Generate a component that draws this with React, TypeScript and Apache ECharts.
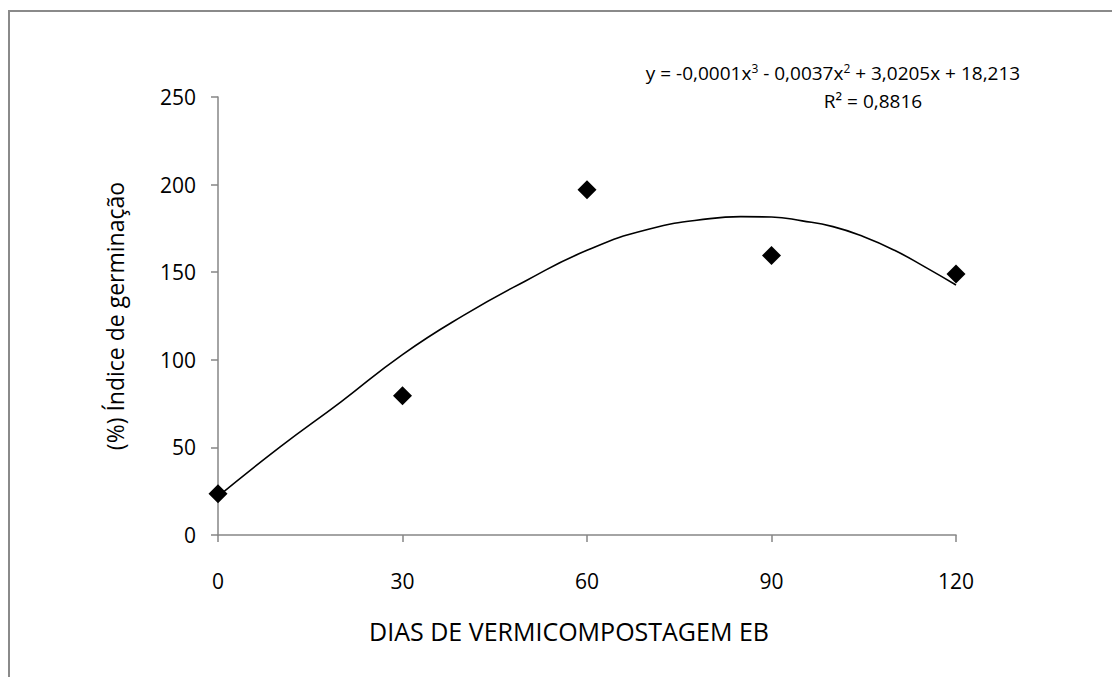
import React, { useEffect, useRef } from "react";
import * as echarts from "echarts";

const days = [0, 30, 60, 90, 120];
const germination = [23.5, 79.5, 197, 159.5, 149];
const trendX = [0, 10, 20, 30, 40, 50, 60, 70, 80, 85, 90, 95, 100, 105, 110, 115, 120];
const trendY = [22, 50, 76, 103, 125.5, 145, 162.5, 174.5, 180.6, 181.7, 181.5, 179.3, 176, 170.2, 162.5, 152.9, 142.7];
const xTicks = { min: 0, max: 120, interval: 30 };
const yTicks = { min: 0, max: 250, interval: 50 };
const xTitle = "DIAS DE VERMICOMPOSTAGEM EB";
const yTitle = "(%) Índice de germinação";
const eqText = "y = -0,0001x{sup|3} - 0,0037x{sup|2} + 3,0205x + 18,213";
const r2Text = "R² = 0,8816";

const FONT = "'Open Sans', 'Liberation Sans', sans-serif";
const AXIS_COLOR = "#868686";

export default function App() {
  const ref = useRef<HTMLDivElement>(null);
  useEffect(() => {
    if (!ref.current) return;
    const chart = echarts.init(ref.current, null, { renderer: "svg" });
    const scatter = days.map((d, i) => [d, germination[i]]);
    const trend = trendX.map((d, i) => [d, trendY[i]]);
    chart.setOption({
      animation: false,
      backgroundColor: "#ffffff",
      grid: { left: 218, right: 156, top: 97, bottom: 142 },
      xAxis: {
        type: "value",
        min: xTicks.min,
        max: xTicks.max,
        interval: xTicks.interval,
        name: xTitle,
        nameLocation: "middle",
        nameGap: 83,
        nameTextStyle: { fontFamily: FONT, fontSize: 25, color: "#000", padding: [0, 36, 0, 0] },
        axisLine: { show: true, lineStyle: { color: AXIS_COLOR, width: 1.5 } },
        axisTick: { show: true, length: 7, lineStyle: { color: AXIS_COLOR, width: 1.5 } },
        axisLabel: { fontFamily: FONT, fontSize: 21, color: "#000", margin: 35 },
        splitLine: { show: false },
      },
      yAxis: {
        type: "value",
        min: yTicks.min,
        max: yTicks.max,
        interval: yTicks.interval,
        name: yTitle,
        nameLocation: "middle",
        nameGap: 92,
        nameRotate: 90,
        nameTextStyle: { fontFamily: FONT, fontSize: 23, color: "#000" },
        axisLine: { show: true, lineStyle: { color: AXIS_COLOR, width: 1.5 } },
        axisTick: { show: true, length: 7, lineStyle: { color: AXIS_COLOR, width: 1.5 } },
        axisLabel: { fontFamily: FONT, fontSize: 21, color: "#000", margin: 22 },
        splitLine: { show: false },
      },
      graphic: [
        {
          type: "rect",
          shape: { x: 9, y: 11, width: 1300, height: 1000 },
          style: { fill: "none", stroke: "#8a8a8a", lineWidth: 2 },
          silent: true,
        },
        {
          type: "text",
          x: 833,
          y: 73,
          style: {
            text: eqText,
            fontFamily: FONT,
            fontSize: 19,
            fill: "#000",
            align: "center",
            verticalAlign: "middle",
            rich: {
              sup: { fontSize: 12, verticalAlign: "top", padding: [0, 0, 9, 0], fontFamily: FONT, fill: "#000" },
            },
          },
        },
        {
          type: "text",
          x: 873,
          y: 101,
          style: {
            text: r2Text,
            fontFamily: FONT,
            fontSize: 19,
            fill: "#000",
            align: "center",
            verticalAlign: "middle",
          },
        },
      ],
      series: [
        {
          type: "line",
          data: trend,
          smooth: true,
          showSymbol: false,
          symbol: "none",
          lineStyle: { color: "#000", width: 1.6 },
          z: 2,
        },
        {
          type: "scatter",
          data: scatter,
          symbol: "diamond",
          symbolSize: 19,
          itemStyle: { color: "#000", opacity: 1 },
          z: 3,
        },
      ],
    });
    return () => chart.dispose();
  }, []);
  return (
    <div
      ref={ref}
      style={{ position: "absolute", left: 0, top: 0, width: 1112, height: 677 }}
    />
  );
}
